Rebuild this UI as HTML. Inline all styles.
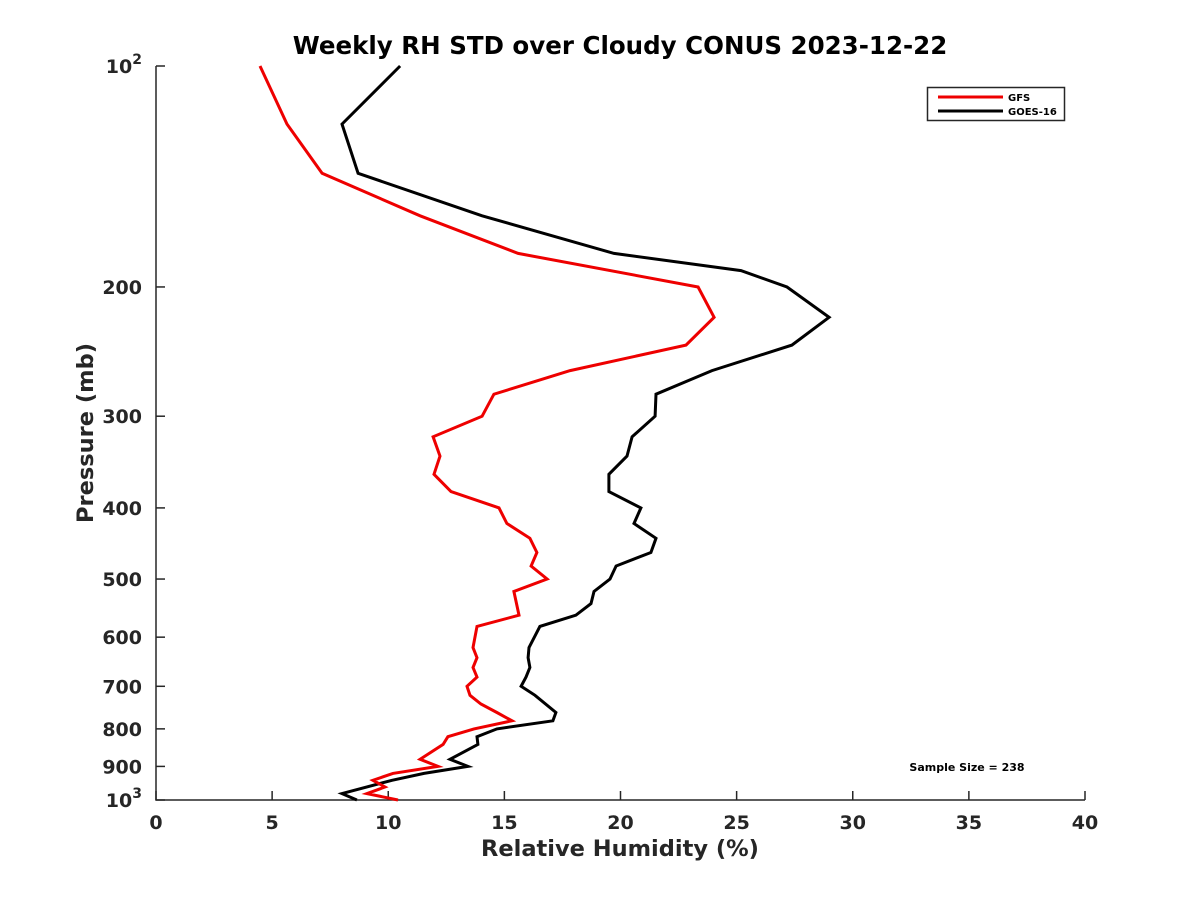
<!DOCTYPE html>
<html><head><meta charset="utf-8"><style>
body{margin:0;background:#fff;}
svg text{font-family:"DejaVu Sans","Liberation Sans",sans-serif;font-weight:bold;fill:#262626;}
</style></head><body>
<svg id="chart" width="1200" height="900" xmlns="http://www.w3.org/2000/svg">
<rect width="1200" height="900" fill="#fff"/>
<text x="620" y="54" text-anchor="middle" font-size="24.5" style="fill:#000">Weekly RH STD over Cloudy CONUS 2023-12-22</text>
<g id="axes"></g>
<g id="series"></g>
<text x="620" y="856" text-anchor="middle" font-size="22.5">Relative Humidity (%)</text>
<text transform="translate(93,433) rotate(-90)" text-anchor="middle" font-size="22.5">Pressure (mb)</text>
<text x="967" y="771" text-anchor="middle" font-size="11" style="fill:#000">Sample Size = 238</text>
<g>
<rect x="927.5" y="87.5" width="137" height="33" fill="#fff" stroke="#262626" stroke-width="1.5"/>
<line x1="938" y1="97" x2="1003" y2="97" stroke="#e00" stroke-width="3"/>
<text x="1008" y="101" font-size="10" style="fill:#000">GFS</text>
<line x1="938" y1="111" x2="1003" y2="111" stroke="#000" stroke-width="3"/>
<text x="1008" y="115" font-size="10" style="fill:#000">GOES-16</text>
</g>
</svg>
<script>
const gfsPressure=[100,120,140,160,180,200,220,240,260,280,300,320,340,360,380,400,420,440,460,480,500,520,560,580,620,640,660,680,700,720,740,760,780,800,820,840,880,900,920,940,960,980,1000];
const gfsValues=[4.48,5.64,7.15,11.37,15.59,23.34,24.03,22.82,17.83,14.55,14.04,11.93,12.23,11.97,12.70,14.77,15.11,16.10,16.40,16.15,16.84,15.41,15.63,13.82,13.65,13.82,13.65,13.82,13.39,13.52,13.99,14.68,15.33,13.69,12.57,12.36,11.37,12.14,10.20,9.34,9.86,9.08,10.42];
const goesPressure=[100,120,140,160,180,190,200,220,240,260,280,300,320,340,360,380,400,420,440,460,480,500,520,540,560,580,620,640,660,680,700,720,760,780,800,820,840,880,900,920,940,980,1000];
const goesValues=[10.51,8.01,8.70,14.04,19.72,25.19,27.17,28.98,27.38,23.94,21.53,21.49,20.50,20.28,19.50,19.50,20.88,20.58,21.53,21.31,19.81,19.55,18.86,18.73,18.08,16.53,16.06,16.02,16.10,15.93,15.72,16.32,17.22,17.09,14.68,13.82,13.86,12.66,13.43,11.54,10.16,8.01,8.65];
const xTicks=[0,5,10,15,20,25,30,35,40];
const yTicks=[100,200,300,400,500,600,700,800,900,1000];
const yTickLabels=["10^2","200","300","400","500","600","700","800","900","10^3"];
const L=156,R=1085,T=66,B=800;
const xs=v=>L+(v-0)/(40-0)*(R-L);
const ys=p=>T+Math.log10(p/100)*(B-T);
const NS="http://www.w3.org/2000/svg";
const axes=document.getElementById('axes');
function mk(tag,attrs,parent){const e=document.createElementNS(NS,tag);for(const k in attrs)e.setAttribute(k,attrs[k]);parent.appendChild(e);return e;}
const ax=mk('path',{d:`M${L},${T}V${B}H${R}`,fill:'none',stroke:'#262626','stroke-width':1.5},axes);


xTicks.forEach(v=>{
  const x=xs(v);
  const t=mk('line',{x1:x,x2:x,y1:B,y2:B-9,stroke:'#262626','stroke-width':1.5},axes);
  
  
  const l=mk('text',{x:x,y:B+29,'text-anchor':'middle','font-size':19},axes);
  l.textContent=v;
  
  
});
yTicks.forEach((p,i)=>{
  const y=ys(p);
  const t=mk('line',{x1:L,x2:L+9,y1:y,y2:y,stroke:'#262626','stroke-width':1.5},axes);
  
  
  const lab=yTickLabels[i];
  const l=mk('text',{x:L-14,y:y+7,'text-anchor':'end','font-size':19},axes);
  if(lab.includes('^')){
    const parts=lab.split('^');
    const a=mk('tspan',{},l);a.textContent=parts[0];
    const s=mk('tspan',{dy:-9,'font-size':14},l);s.textContent=parts[1];
  } else l.textContent=lab;
  
  
});
const ser=document.getElementById('series');
function line(vals,pres,color,name){
  const d=vals.map((v,i)=>(i?'L':'M')+xs(v).toFixed(1)+','+ys(pres[i]).toFixed(1)).join('');
  const p=mk('path',{d:d,fill:'none',stroke:color,'stroke-width':3,'stroke-linejoin':'miter'},ser);
  
  
}
line(goesValues,goesPressure,'#000','goes16-line');
line(gfsValues,gfsPressure,'#e00','gfs-line');
</script>
</body></html>
